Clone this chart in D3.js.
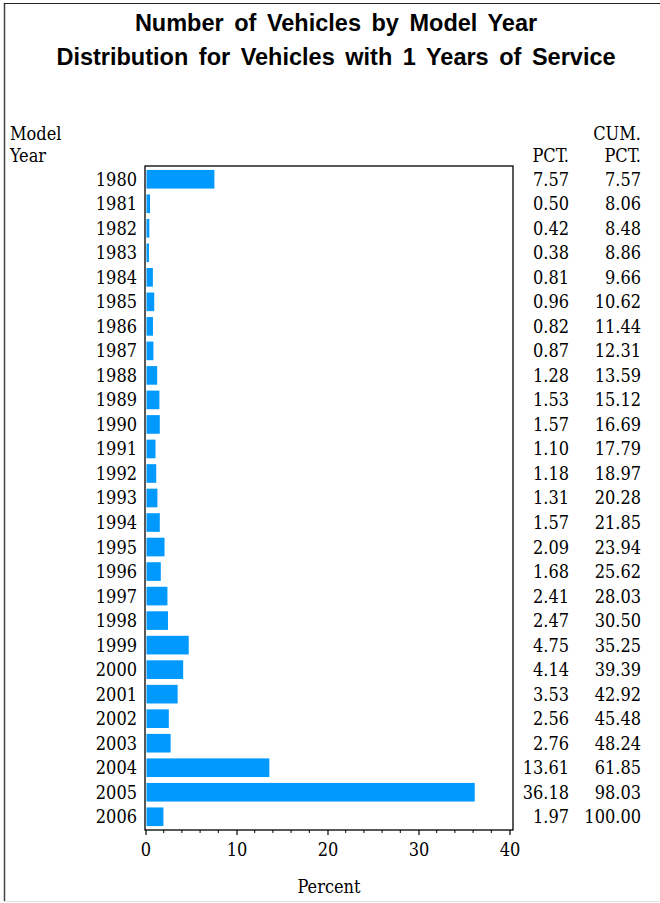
<!DOCTYPE html>
<html>
<head>
<meta charset="utf-8">
<script src="https://cdn.jsdelivr.net/npm/d3@7/dist/d3.min.js"></script>
<style>
  html, body { margin: 0; padding: 0; background: #fff; }
  svg { display: block; }
  .serif { font-family: "DejaVu Serif Condensed", "DejaVu Serif", serif; font-stretch: condensed; fill: #000; }
</style>
</head>
<body>
<svg id="chart" width="660" height="903"></svg>
<script>
// Model years and their share of vehicles (percent) with cumulative percent
const years = ["1980","1981","1982","1983","1984","1985","1986","1987","1988","1989",
  "1990","1991","1992","1993","1994","1995","1996","1997","1998","1999",
  "2000","2001","2002","2003","2004","2005","2006"];
const pct = [7.57,0.50,0.42,0.38,0.81,0.96,0.82,0.87,1.28,1.53,
  1.57,1.10,1.18,1.31,1.57,2.09,1.68,2.41,2.47,4.75,
  4.14,3.53,2.56,2.76,13.61,36.18,1.97];
const cumPct = [7.57,8.06,8.48,8.86,9.66,10.62,11.44,12.31,13.59,15.12,
  16.69,17.79,18.97,20.28,21.85,23.94,25.62,28.03,30.50,35.25,
  39.39,42.92,45.48,48.24,61.85,98.03,100.00];
const xTicks = [0, 10, 20, 30, 40];
const titleLines = ["Number of Vehicles by Model Year",
  "Distribution for Vehicles with 1 Years of Service"];

const svg = d3.select("#chart");
const W = 660, H = 903;
const plot = { left: 145, right: 513, top: 166, bottom: 830 };
const FS = "18px";

// outer frame
svg.append("line").attr("x1", 4.5).attr("x2", 4.5).attr("y1", 3).attr("y2", 901)
  .attr("stroke", "#444").attr("stroke-width", 1.5);
svg.append("line").attr("x1", 4).attr("x2", W).attr("y1", 3.5).attr("y2", 3.5)
  .attr("stroke", "#222").attr("stroke-width", 1.2);
svg.append("line").attr("x1", 4).attr("x2", W).attr("y1", 901.5).attr("y2", 901.5)
  .attr("stroke", "#e4e4e4").attr("stroke-width", 1);

// titles
svg.selectAll("text.title").data(titleLines).join("text")
  .attr("class", "title")
  .attr("x", 336)
  .attr("y", (d, i) => 31 + i * 34)
  .attr("text-anchor", "middle")
  .style("font-family", "'Liberation Sans', Arial, sans-serif")
  .style("font-weight", "bold")
  .style("font-size", "23.5px")
  .style("word-spacing", "4px")
  .text(d => d);

const x = d3.scaleLinear().domain([0, 40]).range([145.5, 509.5]);
const y = d3.scaleBand().domain(years).range([plot.top, plot.bottom]).paddingInner(0.24).paddingOuter(0.16);

// bars
svg.append("g").selectAll("rect").data(years).join("rect")
  .attr("x", x(0) + 1)
  .attr("y", d => y(d))
  .attr("width", (d, i) => x(pct[i]) - x(0) - 1)
  .attr("height", y.bandwidth())
  .attr("fill", "#0099ff");

// plot frame
svg.append("rect")
  .attr("x", plot.left).attr("y", plot.top)
  .attr("width", plot.right - plot.left).attr("height", plot.bottom - plot.top)
  .attr("fill", "none").attr("stroke", "#000").attr("stroke-width", 1.3);

// x axis: major ticks with labels, minor ticks every 2
const minor = d3.range(0, 41, 2).filter(v => v % 10 !== 0);
svg.append("g").selectAll("line").data(minor).join("line")
  .attr("x1", d => x(d)).attr("x2", d => x(d))
  .attr("y1", plot.bottom).attr("y2", plot.bottom + 3)
  .attr("stroke", "#000").attr("stroke-width", 1);
const xAxis = d3.axisBottom(x).tickValues(xTicks).tickSize(5).tickPadding(8).tickFormat(d3.format("d"));
const gx = svg.append("g").attr("transform", `translate(0,${plot.bottom})`).call(xAxis);
gx.select(".domain").remove();
gx.selectAll("line").attr("stroke", "#000").attr("stroke-width", 1.2);
gx.selectAll("text").attr("class", "serif").attr("font-family", null).attr("font-size", null)
  .style("font-size", FS).attr("fill", "#000");

svg.append("text").attr("class", "serif")
  .attr("x", (plot.left + plot.right) / 2).attr("y", 893)
  .attr("text-anchor", "middle").style("font-size", FS).text("Percent");

// y labels
svg.append("g").selectAll("text").data(years).join("text")
  .attr("class", "serif")
  .attr("x", 137)
  .attr("y", d => y(d) + y.bandwidth() / 2)
  .attr("dy", "0.36em")
  .attr("text-anchor", "end")
  .style("font-size", FS)
  .text(d => d);

// column headers
const hdr = [
  { t: "Model", x: 10, y: 140, a: "start" },
  { t: "Year", x: 10, y: 162, a: "start" },
  { t: "PCT.", x: 569, y: 162, a: "end" },
  { t: "CUM.", x: 641, y: 140, a: "end" },
  { t: "PCT.", x: 641, y: 162, a: "end" }
];
svg.append("g").selectAll("text").data(hdr).join("text")
  .attr("class", "serif")
  .attr("x", d => d.x).attr("y", d => d.y)
  .attr("text-anchor", d => d.a)
  .style("font-size", FS)
  .text(d => d.t);

// value columns
svg.append("g").selectAll("text").data(years).join("text")
  .attr("class", "serif")
  .attr("x", 569)
  .attr("y", d => y(d) + y.bandwidth() / 2)
  .attr("dy", "0.36em")
  .attr("text-anchor", "end")
  .style("font-size", FS)
  .text((d, i) => pct[i].toFixed(2));
svg.append("g").selectAll("text").data(years).join("text")
  .attr("class", "serif")
  .attr("x", 641)
  .attr("y", d => y(d) + y.bandwidth() / 2)
  .attr("dy", "0.36em")
  .attr("text-anchor", "end")
  .style("font-size", FS)
  .text((d, i) => cumPct[i].toFixed(2));
</script>
</body>
</html>
